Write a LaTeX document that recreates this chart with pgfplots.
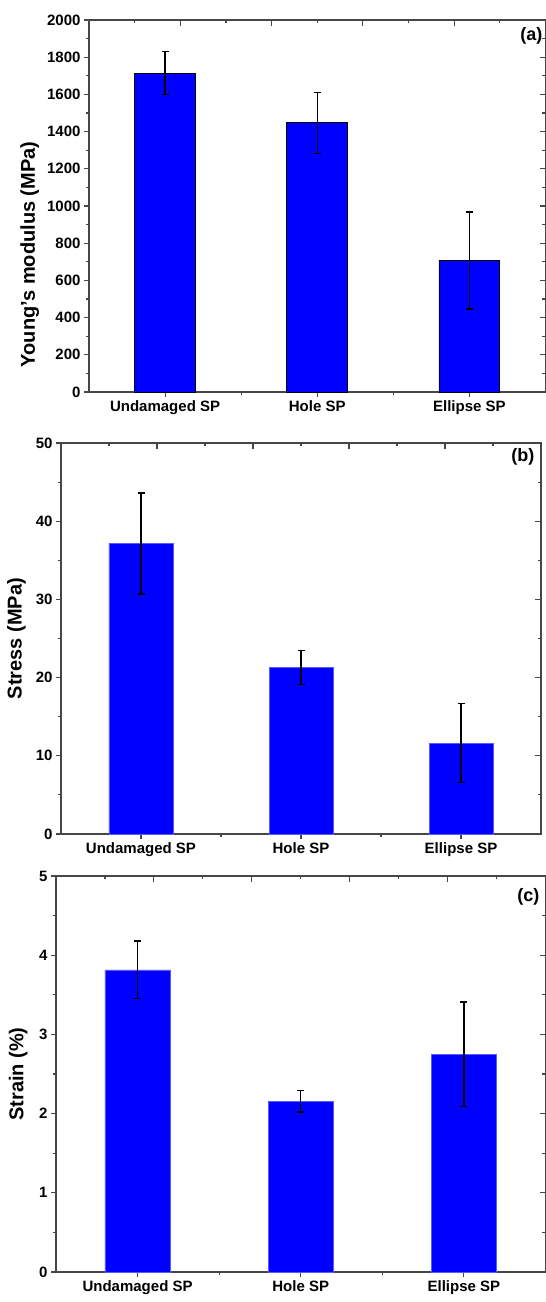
\documentclass[border=0pt]{standalone}
\usepackage{pgfplots}
\pgfplotsset{compat=1.18}
\usepackage{fontspec}
\setmainfont{Liberation Sans}
\definecolor{barblue}{RGB}{0,0,255}
\definecolor{spine}{RGB}{70,70,70}
\tikzset{plabel/.style={font=\bfseries\fontsize{18}{18}\selectfont, inner sep=0pt, anchor=north east}}
\pgfplotsset{
  panel/.style={
    scale only axis, anchor=south west,
    ybar, bar width=0.4, bar shift=0pt,
    xmin=-0.5, xmax=2.5, ymin=0,
    xtick={0,1,2},
    xticklabels={Undamaged SP, Hole SP, Ellipse SP},
    minor xtick={0.5,1.5},
    xtick pos=bottom, ytick pos=left,
    tick align=outside,
    major tick length=5pt, minor tick length=3pt,
    axis line style={spine, line width=1.1pt},
    every tick/.style={spine, line width=1.1pt},
    tick label style={font=\bfseries\fontsize{15}{15}\selectfont, text=black},
    /pgf/number format/assume math mode=true,
    /pgf/number format/1000 sep={},
    ylabel style={font=\bfseries\fontsize{20}{20}\selectfont, anchor=center},
    clip=false,
  },
  topright/.style={
    scale only axis, anchor=south west,
    xmin=-0.5, xmax=2.5, ymin=0,
    axis x line*=top, axis y line*=right,
    axis line style={-, spine, line width=1.1pt},
    every tick/.style={spine, line width=1.1pt},
    tick align=inside,
    major tick length=6pt, minor tick length=3.5pt,
    xtick={-0.5,0.1,0.7,1.3,1.9,2.5},
    minor xtick={-0.2,0.4,1.0,1.6,2.2},
    xticklabels={}, yticklabels={},
  },
  ebar/.style={
    error bars/.cd, y dir=both, y explicit,
    error mark=|,
    error bar style={black, line width=1.3pt, solid},
    error mark options={black, line width=1.3pt, mark size=3.5pt, solid},
  },
}
\begin{document}
\begin{tikzpicture}
\useasboundingbox (0,0) rectangle (546pt,1302pt);
% ---------- (a) ----------
\begin{axis}[panel, at={(89pt,910pt)}, width=456.5pt, height=372pt,
  ymax=2000, ytick={0,200,...,2000}, minor ytick={100,300,...,1900},
  ylabel={Young's modulus (MPa)},
  ylabel style={at={(axis description cs:-0.130,0.37)}}]
\addplot[fill=barblue, draw=black, line width=0.8pt, ebar] coordinates {
  (0,1715) +- (0,115)
  (1,1447) +- (0,163)
  (2,707)  +- (0,261)
};
\node[plabel] at (rel axis cs:1,1) [xshift=-3pt, yshift=-7pt] {(a)};
\end{axis}
\begin{axis}[topright, at={(89pt,910pt)}, width=456.5pt, height=372pt,
  ymax=2000, ytick={0,200,...,2000}, minor ytick={100,300,...,1900}]
\end{axis}
% ---------- (b) ----------
\begin{axis}[panel, at={(61pt,468pt)}, width=480pt, height=391pt,
  ymax=50, ytick={0,10,...,50}, minor ytick={5,15,...,45},
  ylabel={Stress (MPa)},
  ylabel style={at={(axis description cs:-0.093,0.5)}}]
\addplot[fill=barblue, draw=blue!65!white, line width=0.6pt, ebar] coordinates {
  (0,37.15) +- (0,6.45)
  (1,21.27) +- (0,2.17)
  (2,11.63) +- (0,5.03)
};
\node[plabel] at (rel axis cs:1,1) [xshift=-6.5pt, yshift=-5pt] {(b)};
\end{axis}
\begin{axis}[topright, at={(61pt,468pt)}, width=480pt, height=391pt,
  ymax=50, ytick={0,10,...,50}, minor ytick={5,15,...,45}]
\end{axis}
% ---------- (c) ----------
\begin{axis}[panel, at={(56pt,30pt)}, width=489.5pt, height=396pt,
  ymax=5, ytick={0,1,...,5}, minor ytick={0.5,1.5,...,4.5},
  ylabel={Strain (\%)},
  ylabel style={at={(axis description cs:-0.077,0.5)}}]
\addplot[fill=barblue, draw=blue!65!white, line width=0.6pt, ebar] coordinates {
  (0,3.815) +- (0,0.365)
  (1,2.155) +- (0,0.135)
  (2,2.75)  +- (0,0.66)
};
\node[plabel] at (rel axis cs:1,1) [xshift=-6pt, yshift=-12pt] {(c)};
\end{axis}
\begin{axis}[topright, at={(56pt,30pt)}, width=489.5pt, height=396pt,
  ymax=5, ytick={0,1,...,5}, minor ytick={0.5,1.5,...,4.5}]
\end{axis}
\end{tikzpicture}
\end{document}
